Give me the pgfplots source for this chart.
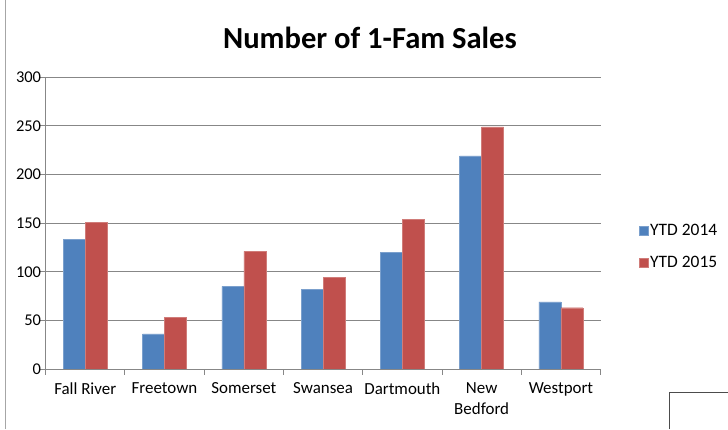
\documentclass[border=0pt]{standalone}
\usepackage{fontspec}
\setmainfont{Carlito}
\usepackage{pgfplots}
\pgfplotsset{compat=1.18}
\definecolor{b14}{HTML}{4F81BD}
\definecolor{r15}{HTML}{C0504D}
\definecolor{gridc}{HTML}{878787}
\begin{document}
\begin{tikzpicture}[x=1bp,y=1bp]
\useasboundingbox (0,0) rectangle (728,429);
\draw[gray!70, line width=1bp] (5,0) -- (5,429);
\draw[black!70, line width=0.8bp] (669,0) -- (669,37) -- (728,37);
\node[font=\fontsize{30.7}{34}\selectfont\bfseries] at (370,391) {Number of 1-Fam Sales};
\begin{axis}[
  at={(57.5,61.7)}, anchor=south west, scale only axis,
  width=555bp, height=291.8bp,
  ybar=0pt, bar width=22bp,
  ymin=0, ymax=300, ytick={0,50,...,300},
  xmin=-0.5, xmax=6.5,
  xtick={-0.5,0.5,...,6.5}, x tick label as interval,
  xticklabels={Fall River,Freetown,Somerset,Swansea,Dartmouth,New\\Bedford,Westport},
  x tick label style={align=center, font=\fontsize{17}{21}\selectfont, yshift=-4bp},
  y tick label style={font=\fontsize{16.5}{19}\selectfont, xshift=5bp},
  /pgf/number format/assume math mode=true,
  ymajorgrids, grid style={gridc, line width=0.8bp},
  axis x line*=bottom, axis y line*=left,
  axis line style={gridc, line width=0.8bp, -},
  major tick length=6bp, tick align=outside,
  tick style={gridc, line width=0.8bp},
  legend style={at={(1,0.42)}, anchor=west, xshift=38bp, draw=none, fill=none,
    font=\fontsize{17.5}{19}\selectfont, inner sep=0pt, row sep=15bp,
    nodes={inner sep=2bp}},
  legend cell align=left,
  legend image code/.code={\fill[#1] (0bp,-4.5bp) rectangle (9bp,4.5bp);},
]
\addplot[fill=b14, draw=b14!75!white, line width=0.4bp] coordinates {(0,133) (1,36) (2,85) (3,82) (4,120) (5,219) (6,69)};
\addplot[fill=r15, draw=r15!75!white, line width=0.4bp] coordinates {(0,151) (1,53) (2,121) (3,94) (4,154) (5,249) (6,63)};
\legend{YTD 2014, YTD 2015}
\end{axis}
\end{tikzpicture}
\end{document}
